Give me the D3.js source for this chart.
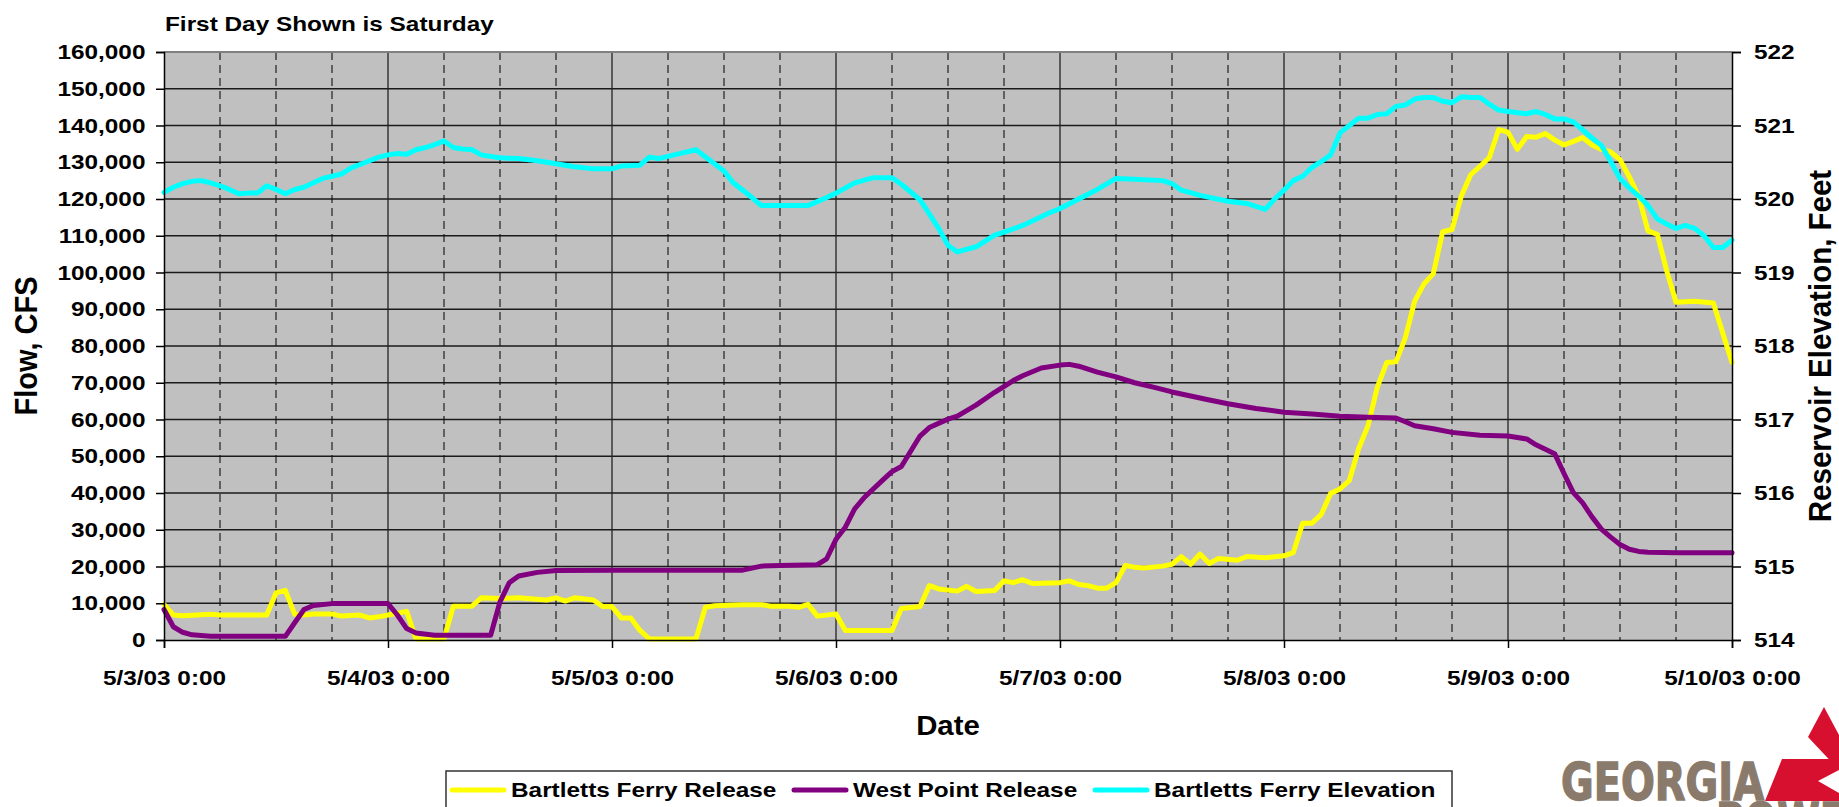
<!DOCTYPE html>
<html>
<head>
<meta charset="utf-8">
<script src="https://cdn.jsdelivr.net/npm/d3@7"></script>
<style>
  html, body { margin: 0; padding: 0; background: #ffffff; }
  svg { display: block; }
  text { font-family: "Liberation Sans", Arial, sans-serif; font-weight: bold; fill: #000; }
</style>
</head>
<body>
<svg id="chart" width="1839" height="807"></svg>
<script>
// ---- Axis labels and ticks ----
const dayHours  = [0, 24, 48, 72, 96, 120, 144, 168];
const dayLabels = ["5/3/03 0:00", "5/4/03 0:00", "5/5/03 0:00", "5/6/03 0:00",
                   "5/7/03 0:00", "5/8/03 0:00", "5/9/03 0:00", "5/10/03 0:00"];
const flowTicks = [0, 10000, 20000, 30000, 40000, 50000, 60000, 70000, 80000,
                   90000, 100000, 110000, 120000, 130000, 140000, 150000, 160000];
const elevTicks = [514, 515, 516, 517, 518, 519, 520, 521, 522];
const seriesNames = ["Bartletts Ferry Release", "West Point Release", "Bartletts Ferry Elevation"];

// ---- Bartletts Ferry Release (cfs), hours after 5/3/03 0:00 ----
const releaseHours = [0,1,2,5,6,11,12,13,14,15,16,18,19,21,22,23,24,26,27,30,31,33,34,36,38,41,42,43,44,46,47,48,49,50,51,52,
  57,58,59,62,64,65,67,68,69,70,72,73,78,79,81,82,83,85,86,87,89,90,91,92,93,96,97,98,99,100,101,102,103,104,105,107,108,109,110,111,112,113,115,116,118,120,
  121,122,123,124,125,126,127,128,129,130,131,132,133,134,135,136,137,138,139,140,141,142,143,144,145,146,147,148,149,150,151,152,153,154,155,156,157,158,159,160,161,162,164,166,168];
const releaseFlow = [9700,6800,6600,7000,6800,6800,12800,13500,7000,6800,7100,7100,6500,6800,6000,6300,6800,7800,300,300,9200,9200,11500,11300,11500,10900,11500,10600,11500,10900,9100,9100,6000,6000,2600,300,
  300,8900,9300,9600,9600,9200,9200,8900,9700,6500,7100,2600,2600,8600,9100,14800,13900,13300,14600,13200,13500,16100,15600,16400,15400,15600,16100,15100,14800,14100,14100,15600,20300,19800,19600,20100,20600,22700,20600,23400,20800,22200,21700,22700,22400,22900,
  23800,31800,31800,34200,39900,41100,43400,52100,58300,68800,75500,75700,82300,92200,96900,99700,111100,111700,120800,126600,128900,131300,138900,138200,133500,137000,136800,137800,136100,134700,135700,136700,134700,133500,132800,130700,126000,120800,111300,110400,100500,91900,92200,91700,75500];

// ---- West Point Release (cfs) ----
const westPointHours = [0,1,2,3,5,13,14,15,16,18,24,25,26,27,29,35,36,37,38,40,42,48,62,64,66,70,71,72,73,74,75,77,78,79,81,82,84,85,87,89,91,92,94,96,97,98,100,102,104,106,108,110,112,114,117,120,123,126,129,132,133,134,136,138,141,144,146,147,149,150,151,152,153,154,155,156,157,158,159,162,168];
const westPointFlow  = [8300,3600,2100,1400,1000,1000,4700,8300,9400,9900,9900,6800,3100,1900,1300,1300,10400,15600,17400,18400,18900,19000,19000,20100,20300,20500,22100,27400,30700,35700,38700,43500,45800,47200,55500,57800,60100,60900,63900,67400,70600,71900,74000,74800,75000,74500,72900,71600,70000,68800,67500,66400,65300,64300,63000,62000,61500,60900,60600,60400,59400,58300,57500,56500,55700,55500,54700,53100,50700,45300,40100,37300,33500,30200,28000,26000,24700,24100,23900,23750,23750];

// ---- Bartletts Ferry Elevation (feet) ----
const elevHours = [0,1,2,3,4,5,6,7,8,9,10,11,12,13,14,15,16,17,18,19,20,21,22,23,24,25,26,27,28,29,30,31,32,33,34,35,36,38,40,42,44,46,48,49,51,52,53,54,55,57,60,61,63,64,69,71,72,74,76,78,79,81,83,84,85,87,89,90,92,95,96,98,100,102,104,107,108,109,111,114,116,118,119,
  120,121,122,123,124,125,126,127,128,129,130,131,132,133,134,135,136,137,138,139,140,141,142,143,144,146,147,148,149,150,151,152,153,154,155,156,157,158,159,160,161,162,163,164,165,166,167,168];
const elevFeet  = [520.09,520.16,520.21,520.24,520.25,520.22,520.18,520.13,520.07,520.08,520.08,520.18,520.13,520.07,520.13,520.16,520.22,520.28,520.31,520.34,520.42,520.47,520.52,520.57,520.60,520.62,520.61,520.67,520.70,520.74,520.79,520.70,520.68,520.67,520.60,520.58,520.56,520.55,520.52,520.48,520.44,520.41,520.41,520.45,520.46,520.57,520.55,520.58,520.61,520.67,520.38,520.22,520.02,519.91,519.91,520.02,520.08,520.22,520.29,520.29,520.20,519.99,519.60,519.37,519.28,519.35,519.51,519.55,519.64,519.82,519.87,520.00,520.13,520.28,520.27,520.25,520.21,520.12,520.05,519.97,519.94,519.86,520.00,
  520.12,520.25,520.31,520.43,520.51,520.60,520.90,521.00,521.10,521.10,521.15,521.16,521.26,521.28,521.36,521.38,521.38,521.33,521.31,521.39,521.38,521.38,521.29,521.21,521.19,521.16,521.19,521.15,521.09,521.09,521.05,520.94,520.83,520.73,520.51,520.28,520.15,520.04,519.91,519.73,519.66,519.60,519.64,519.60,519.50,519.34,519.34,519.44];

const colors = ["#ffff00", "#800080", "#00ffff"];

// ---- Layout ----
const plot = { left: 164, right: 1732, top: 52, bottom: 640 };
const SX = 1.16;   // horizontal widening applied to labels

const svg = d3.select("#chart");

const x  = d3.scaleLinear().domain([0, 168]).range([plot.left, plot.right]);
const yF = d3.scaleLinear().domain([0, 160000]).range([plot.bottom, plot.top]);
const yE = d3.scaleLinear().domain([514, 522]).range([plot.bottom, plot.top]);

// Plot background
svg.append("rect")
  .attr("x", plot.left).attr("y", plot.top)
  .attr("width", plot.right - plot.left).attr("height", plot.bottom - plot.top)
  .attr("fill", "#c0c0c0");

// Horizontal gridlines
svg.append("g").selectAll("line")
  .data(flowTicks.filter(v => v > 0 && v < 160000))
  .join("line")
  .attr("x1", plot.left).attr("x2", plot.right)
  .attr("y1", d => yF(d)).attr("y2", d => yF(d))
  .attr("stroke", "#1a1a1a").attr("stroke-width", 1.3);

// Vertical gridlines: solid at midnight, dashed every 6 hours
const gridHours = d3.range(6, 168, 6);
svg.append("g").selectAll("line")
  .data(gridHours)
  .join("line")
  .attr("x1", d => x(d)).attr("x2", d => x(d))
  .attr("y1", plot.top).attr("y2", plot.bottom)
  .attr("stroke", d => d % 24 === 0 ? "#222" : "#111")
  .attr("stroke-width", d => d % 24 === 0 ? 1.3 : 1.1)
  .attr("stroke-dasharray", d => d % 24 === 0 ? null : "8,5");

// Top border of plot area
svg.append("line")
  .attr("x1", plot.left).attr("x2", plot.right)
  .attr("y1", plot.top).attr("y2", plot.top)
  .attr("stroke", "#808080").attr("stroke-width", 2);

// ---- Series ----
function drawSeries(hours, vals, yScale, color) {
  const pts = hours.map((h, i) => [h, vals[i]]);
  svg.append("path")
    .datum(pts)
    .attr("fill", "none")
    .attr("stroke", color)
    .attr("stroke-width", 5)
    .attr("stroke-linejoin", "round")
    .attr("stroke-linecap", "round")
    .attr("d", d3.line().x(d => x(d[0])).y(d => yScale(d[1])));
}
drawSeries(releaseHours, releaseFlow, yF, colors[0]);
drawSeries(westPointHours, westPointFlow, yF, colors[1]);
drawSeries(elevHours, elevFeet, yE, colors[2]);

// ---- Axes ----
const fmt = d3.format(",");
const leftAxis = svg.append("g")
  .attr("transform", `translate(${plot.left},0)`)
  .call(d3.axisLeft(yF).tickValues(flowTicks).tickFormat(fmt).tickSize(8).tickPadding(8));

const rightAxis = svg.append("g")
  .attr("transform", `translate(${plot.right},0)`)
  .call(d3.axisRight(yE).tickValues(elevTicks).tickFormat(d3.format("d")).tickSize(9).tickPadding(10));

const bottomAxis = svg.append("g")
  .attr("transform", `translate(0,${plot.bottom})`)
  .call(d3.axisBottom(x).tickValues(dayHours).tickFormat((d, i) => dayLabels[i]).tickSize(8).tickPadding(22));

[leftAxis, rightAxis, bottomAxis].forEach(g => {
  g.select(".domain").attr("stroke", "#000").attr("stroke-width", 1.5);
  g.selectAll(".tick line").attr("stroke", "#000").attr("stroke-width", 1.5);
  g.selectAll("text")
    .attr("fill", "#000")
    .style("font-size", "21px")
    .style("font-family", "'Liberation Sans', Arial, sans-serif")
    .style("font-weight", "bold")
    .attr("transform", `scale(${SX},1)`);
});

// ---- Titles ----
function label(txt, px, py, size, opts = {}) {
  const rot = opts.rotate ? ` rotate(${opts.rotate})` : "";
  const sx = opts.sx === undefined ? SX : opts.sx;
  return svg.append("text")
    .attr("transform", `translate(${px},${py}) scale(${sx},1)${rot}`)
    .attr("text-anchor", opts.anchor || "start")
    .style("font-size", size + "px")
    .text(txt);
}
label("First Day Shown is Saturday", 165, 31, 21);
label("Date", (plot.left + plot.right) / 2, 735, 28, { anchor: "middle", sx: 1.05 });
label("Flow, CFS", 37, (plot.top + plot.bottom) / 2, 29, { anchor: "middle", rotate: -90, sx: 1.05 });
label("Reservoir Elevation, Feet", 1831, (plot.top + plot.bottom) / 2, 29.5, { anchor: "middle", rotate: -90, sx: 1.05 });

// ---- Legend ----
const legend = svg.append("g");
legend.append("rect")
  .attr("x", 446).attr("y", 771).attr("width", 1006).attr("height", 60)
  .attr("fill", "#fff").attr("stroke", "#333").attr("stroke-width", 1.5);
const legendX = [452, 794, 1095];
seriesNames.forEach((name, i) => {
  legend.append("line")
    .attr("x1", legendX[i]).attr("x2", legendX[i] + 52)
    .attr("y1", 790).attr("y2", 790)
    .attr("stroke", colors[i]).attr("stroke-width", 5).attr("stroke-linecap", "round");
  legend.append("text")
    .attr("transform", `translate(${legendX[i] + 59},797) scale(${SX},1)`)
    .style("font-size", "21px")
    .text(name);
});

// ---- Company mark ----
const logo = svg.append("g");
logo.append("text")
  .attr("x", 1561).attr("y", 800)
  .attr("textLength", 203).attr("lengthAdjust", "spacingAndGlyphs")
  .style("font-size", "52px").style("font-family", "'DejaVu Sans', sans-serif")
  .style("font-weight", "bold").style("fill", "#8a7a6c")
  .style("stroke", "#8a7a6c").style("stroke-width", 1.5)
  .text("GEORGIA");
logo.append("text")
  .attr("x", 1716).attr("y", 840)
  .attr("textLength", 160).attr("lengthAdjust", "spacingAndGlyphs")
  .style("font-size", "52px").style("font-family", "'DejaVu Sans', sans-serif")
  .style("font-weight", "bold").style("fill", "#8a7a6c")
  .style("stroke", "#8a7a6c").style("stroke-width", 1.5)
  .text("POWER");
logo.append("polygon")
  .attr("points", "1824,707 1808,737 1839,770 1839,735")
  .attr("fill", "#d8102f");
logo.append("polygon")
  .attr("points", "1765,801 1782,759 1839,759 1839,770 1818,781 1839,793 1839,801")
  .attr("fill", "#d8102f");
</script>
</body>
</html>
